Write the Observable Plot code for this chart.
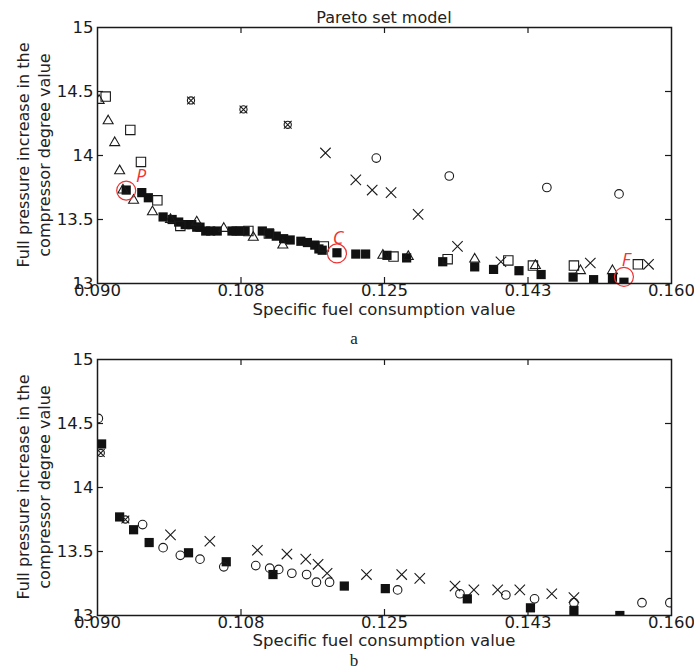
<!DOCTYPE html>
<html><head><meta charset="utf-8">
<script src="https://cdn.jsdelivr.net/npm/d3@7"></script>
<script src="https://cdn.jsdelivr.net/npm/@observablehq/plot@0.6"></script>
<style>
body{margin:0;background:#fff;font-family:"DejaVu Sans",sans-serif;color:#222}
#wrap{position:relative;width:694px;height:672px;overflow:hidden;background:#fff}
.abs{position:absolute;white-space:nowrap;transform:translate(-50%,-50%);line-height:1}
.rot{transform:translate(-50%,-50%) rotate(-90deg)}
.serif{font-family:"Liberation Serif","DejaVu Serif",serif}
#wrap svg{position:absolute;left:0}
</style></head>
<body><div id="wrap"></div>
<script>
// ---- axis ticks ----
const xTicks = [0.09, 0.1075, 0.125, 0.1425, 0.16];
const xTickLabels = ["0.090", "0.108", "0.125", "0.143", "0.160"];
const yTicks = [13, 13.5, 14, 14.5, 15];
const yTickLabels = ["13", "13.5", "14", "14.5", "15"];

// ---- panel a ----
const aFilledX = [0.0935,0.0954,0.0962,0.0980,0.0991,0.0999,0.1007,0.1015,0.1021,0.1025,0.1032,0.1038,0.1046,0.1064,0.1069,0.1074,0.1080,0.1101,0.1110,0.1118,0.1127,0.1135,0.1148,0.1156,0.1165,0.1170,0.1174,0.1192,0.1215,0.1227,0.1253,0.1277,0.1321,0.1360,0.1383,0.1414,0.1441,0.1480,0.1505,0.1528,0.1542];
const aFilledY = [13.73,13.71,13.67,13.52,13.50,13.48,13.46,13.46,13.44,13.44,13.41,13.41,13.41,13.41,13.41,13.41,13.41,13.41,13.39,13.37,13.35,13.34,13.33,13.32,13.30,13.27,13.26,13.24,13.23,13.23,13.22,13.20,13.17,13.13,13.11,13.10,13.07,13.05,13.03,13.04,13.01];
const aOpenSqX = [0.0910,0.0940,0.0953,0.0973,0.1001,0.1084,0.1109,0.1176,0.1261,0.1327,0.1401,0.1431,0.1481,0.1559];
const aOpenSqY = [14.46,14.20,13.95,13.65,13.45,13.41,13.39,13.29,13.21,13.19,13.18,13.14,13.14,13.15];
const aTriX = [0.0902,0.0913,0.0921,0.0927,0.0931,0.0944,0.0967,0.0989,0.1021,0.1054,0.1090,0.1126,0.1248,0.1279,0.1360,0.1434,0.1489,0.1528];
const aTriY = [14.43,14.27,14.10,13.88,13.73,13.65,13.56,13.50,13.48,13.43,13.36,13.30,13.22,13.21,13.19,13.14,13.10,13.10];
const aCrossX = [0.1178,0.1215,0.1235,0.1258,0.1291,0.1339,0.1392,0.1501,0.1572];
const aCrossY = [14.02,13.81,13.73,13.71,13.54,13.29,13.17,13.16,13.15];
const aCircleX = [0.1240,0.1329,0.1448,0.1536];
const aCircleY = [13.98,13.84,13.75,13.70];
const aOtimesX = [0.1014,0.1078,0.1132];
const aOtimesY = [14.43,14.36,14.24];
const annotNames = ["P", "C", "F"];
const annotX = [0.0935, 0.1192, 0.1542];
const annotY = [13.726, 13.235, 13.052];

// ---- panel b ----
const bFilledX = [0.0905,0.0927,0.0944,0.0963,0.1011,0.1057,0.1114,0.1201,0.1251,0.1351,0.1428,0.1481,0.1537];
const bFilledY = [14.34,13.77,13.67,13.57,13.49,13.42,13.32,13.23,13.21,13.13,13.06,13.04,13.00];
const bCircleX = [0.0901,0.0955,0.0980,0.1001,0.1025,0.1054,0.1093,0.1110,0.1121,0.1137,0.1155,0.1167,0.1183,0.1266,0.1342,0.1398,0.1433,0.1481,0.1564,0.1598];
const bCircleY = [14.54,13.71,13.53,13.47,13.44,13.38,13.39,13.37,13.36,13.33,13.32,13.26,13.26,13.20,13.17,13.16,13.13,13.10,13.10,13.10];
const bCrossX = [0.0989,0.1037,0.1095,0.1131,0.1154,0.1169,0.1180,0.1228,0.1271,0.1293,0.1336,0.1359,0.1388,0.1415,0.1454,0.1481];
const bCrossY = [13.63,13.58,13.51,13.48,13.44,13.40,13.33,13.32,13.32,13.29,13.23,13.20,13.20,13.20,13.17,13.14];
const bOtimesX = [0.0904,0.0934];
const bOtimesY = [14.27,13.75];

// ---- texts ----
const chartTitle = "Pareto set model";
const xTitle = "Specific fuel consumption value";
const yTitle1 = "Full pressure increase in the";
const yTitle2 = "compressor degree value";

const pts = (xs, ys) => xs.map((x, i) => ({x, y: ys[i]}));
const INK = "#1a1a1a", RED = "#ee3333";
const labelOffset = {P: [15, -14], C: [1, -15], F: [2, -17]};

function panel(layers, annot, marginRight) {
  const W = 694, H = 310, mL = 97, mT = 27, mB = 27;
  const pw = W - mL - marginRight, ph = H - mT - mB, T = 6;
  const inner = {x: xTicks.slice(1, -1), y: yTicks.slice(1, -1)};
  const marks = [
    Plot.tickX(inner.x, {x: d => d, insetTop: ph - T, stroke: INK, strokeWidth: 1.2}),
    Plot.tickX(inner.x, {x: d => d, insetBottom: ph - T, stroke: INK, strokeWidth: 1.2}),
    Plot.tickY(inner.y, {y: d => d, insetRight: pw - T, stroke: INK, strokeWidth: 1.2}),
    Plot.tickY(inner.y, {y: d => d, insetLeft: pw - T, stroke: INK, strokeWidth: 1.2}),
    Plot.axisX(xTicks, {tickSize: 0, tickPadding: 1, tickFormat: d => xTickLabels[xTicks.indexOf(d)], label: null, fontSize: 16.5}),
    Plot.axisY(yTicks, {tickSize: 0, tickPadding: 4, tickFormat: d => yTickLabels[yTicks.indexOf(d)], label: null, fontSize: 16.5}),
  ];
  if (layers.filled) marks.push(Plot.dot(layers.filled, {x: "x", y: "y", symbol: "square", r: 5.2, fill: "#111", stroke: null, clip: true}));
  const open = {fill: "none", stroke: INK, strokeWidth: 1.1, clip: true};
  if (layers.openSq) marks.push(Plot.dot(layers.openSq, {x: "x", y: "y", symbol: "square", r: 5.3, ...open}));
  if (layers.tri) marks.push(Plot.dot(layers.tri, {x: "x", y: "y", symbol: "triangle", r: 3.7, ...open}));
  if (layers.cross) marks.push(Plot.dot(layers.cross, {x: "x", y: "y", symbol: "times", r: 4.8, ...open}));
  if (layers.circle) marks.push(Plot.dot(layers.circle, {x: "x", y: "y", symbol: "circle", r: 4.3, ...open}));
  if (layers.otimes) {
    marks.push(Plot.dot(layers.otimes, {x: "x", y: "y", symbol: "circle", r: 3.6, ...open}));
    marks.push(Plot.dot(layers.otimes, {x: "x", y: "y", symbol: "times", r: 3.6, ...open}));
  }
  if (annot) {
    marks.push(Plot.dot(annot, {x: "x", y: "y", symbol: "circle", r: 9.5, fill: "none", stroke: RED, strokeWidth: 1.2}));
    for (const a of annot) {
      const [dx, dy] = labelOffset[a.name];
      marks.push(Plot.text([a], {x: "x", y: "y", text: "name", dx, dy, fill: RED, fontSize: 18, fontStyle: "italic", fontFamily: "'Open Sans', sans-serif"}));
    }
  }
  marks.push(Plot.frame({stroke: INK, strokeWidth: 1.5}));
  return Plot.plot({
    width: W, height: H,
    marginLeft: mL, marginRight, marginTop: mT, marginBottom: mB,
    x: {domain: [0.09, 0.16]},
    y: {domain: [13, 15]},
    style: {fontFamily: "'DejaVu Sans', sans-serif", fontSize: "16.5px", color: INK, background: "transparent", overflow: "visible"},
    marks
  });
}

const wrap = document.getElementById("wrap");
const annot = annotNames.map((name, i) => ({name, x: annotX[i], y: annotY[i]}));

const svgA = panel({
  filled: pts(aFilledX, aFilledY), openSq: pts(aOpenSqX, aOpenSqY), tri: pts(aTriX, aTriY),
  cross: pts(aCrossX, aCrossY), circle: pts(aCircleX, aCircleY), otimes: pts(aOtimesX, aOtimesY)
}, annot, 23);
svgA.style.top = "0px";
wrap.appendChild(svgA);

const svgB = panel({
  filled: pts(bFilledX, bFilledY), cross: pts(bCrossX, bCrossY),
  circle: pts(bCircleX, bCircleY), otimes: pts(bOtimesX, bOtimesY)
}, null, 23);
svgB.style.top = "332px";
wrap.appendChild(svgB);

function addText(txt, x, y, size, cls = "") {
  const d = document.createElement("div");
  d.className = "abs " + cls;
  d.style.left = x + "px"; d.style.top = y + "px"; d.style.fontSize = size + "px";
  d.textContent = txt;
  wrap.appendChild(d);
}
addText(chartTitle, 384, 18, 16);
addText(xTitle, 384, 310, 16.5);
addText(xTitle, 384, 641, 16.5);
addText("a", 354, 338, 17, "serif");
addText("b", 354, 660, 17, "serif");
addText(yTitle1, 24, 155, 16, "rot");
addText(yTitle2, 45, 155, 16, "rot");
addText(yTitle1, 24, 487, 16, "rot");
addText(yTitle2, 45, 487, 16, "rot");
</script>
</body></html>
